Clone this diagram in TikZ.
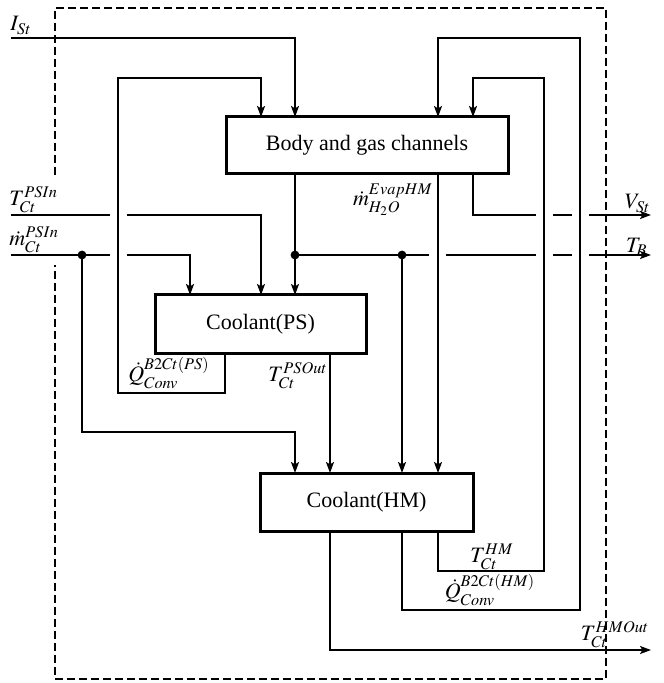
\documentclass[tikz,border=0pt]{standalone}
\usepackage{amsmath}
\usepackage{mathptmx}
\usepackage{fontspec}
\setmainfont{Liberation Serif}
\usetikzlibrary{arrows.meta,calc}

\tikzset{
  block/.style={draw, line width=1.5pt, inner sep=0pt, outer sep=0pt},
  flow/.style={line width=0.8pt},
  lbl/.style={inner sep=0pt},
  border/.style={line width=1pt, dash pattern=on 4pt off 2pt},
}

\begin{document}
\begin{tikzpicture}[x=0.5pt, y=-0.5pt, >={Stealth[length=5.5pt,width=4pt,inset=1.2pt]},
  font=\fontsize{11}{13}\selectfont]

\useasboundingbox (0,0) rectangle (663,683);

% blocks
\node[block, minimum width=141pt, minimum height=28.5pt] (body) at (367,145.5) {Body and gas channels};
\node[block, minimum width=105.5pt, minimum height=29pt] (coolPS) at (260.5,324) {Coolant(PS)};
\node[block, minimum width=106.5pt, minimum height=29pt] (coolHM) at (366.5,502) {Coolant(HM)};

% free ends and junctions
\coordinate (inI) at (11,38);
\coordinate (inT) at (11,215);
\coordinate (inM) at (11,255);
\coordinate (outV) at (651,215);
\coordinate (outTB) at (651,255);
\coordinate (outHM) at (651,650);
\coordinate (jB) at (295,255);
\coordinate (jB2) at (402,255);
\coordinate (jM) at (82,255);

% lines that are broken where others cross them
\draw[flow,->] ($(body.south west)+(247,0)$) |- (outV);
\draw[flow] ($(body.south west)+(69,0)$) -- (jB);
\draw[flow,->] (jB) -- (outTB);
\draw[flow,->] (inT) -| ($(coolPS.north west)+(106,0)$);
\draw[flow,->] (inM) -| ($(coolPS.north west)+(35,0)$);

\foreach \gx/\gy in {118.5/215, 118.5/255, 437.5/255, 544.5/255, 580/255, 544.5/215, 580/215}
  \fill[white] (\gx-8.5,\gy-5) rectangle (\gx+8.5,\gy+5);

% the other connectors
\draw[flow,->] (inI) -| ($(body.north west)+(69,0)$);
\draw[flow,->] ($(coolPS.south west)+(70,0)$) -- ++(0,40) -| (118,78) -| ($(body.north west)+(35,0)$);
\draw[flow,->] ($(coolHM.south west)+(142,0)$) -- ++(0,79) -| (580,38) -| ($(body.north west)+(212,0)$);
\draw[flow,->] ($(coolHM.south west)+(178,0)$) -- ++(0,40) -| (544,78) -| ($(body.north west)+(247,0)$);
\draw[flow,->] (jB) -- (coolPS.north -| jB);
\draw[flow,->] (jB2) -- (coolHM.north -| jB2);
\draw[flow,->] ($(body.south west)+(212,0)$) -- ($(coolHM.north west)+(178,0)$);
\draw[flow,->] (jM) -- ++(0,177) -| ($(coolHM.north west)+(35,0)$);
\draw[flow,->] ($(coolPS.south west)+(175,0)$) -- ($(coolHM.north west)+(70,0)$);
\draw[flow,->] ($(coolHM.south west)+(70,0)$) |- (outHM);

\fill (jB) circle (2.2pt);
\fill (jB2) circle (2.2pt);
\fill (jM) circle (2.2pt);

% labels
\node[lbl, anchor=south west] (lI) at (10,35) {$I_{St}$};
\node[lbl, anchor=south west] (lT) at (9,213) {$T_{Ct}^{PSIn}$};
\node[lbl, anchor=south west] (lM) at (9,253) {$\dot{m}_{Ct}^{PSIn}$};
\node[lbl, anchor=south east] (lV) at (651,213) {$V_{St}$};
\node[lbl, anchor=south east] (lTB) at (648,256) {$T_B$};
\node[lbl] (lEvap) at (393,200) {$\dot{m}_{H_2O}^{EvapHM}$};
\node[lbl] (lQps) at (169,373) {$\dot{Q}_{Conv}^{B2Ct(PS)}$};
\node[lbl] (lTpso) at (298,376) {$T_{Ct}^{PSOut}$};
\node[lbl] (lThm) at (492,557) {$T_{Ct}^{HM}$};
\node[lbl] (lQhm) at (490,590) {$\dot{Q}_{Conv}^{B2Ct(HM)}$};
\node[lbl] (lThmo) at (615,635) {$T_{Ct}^{HMOut}$};

% system boundary
\draw[border] (55,175) -- (55,8) -- (606,8) -- (606,679) -- (55,679) -- (55,265);

\end{tikzpicture}
\end{document}
